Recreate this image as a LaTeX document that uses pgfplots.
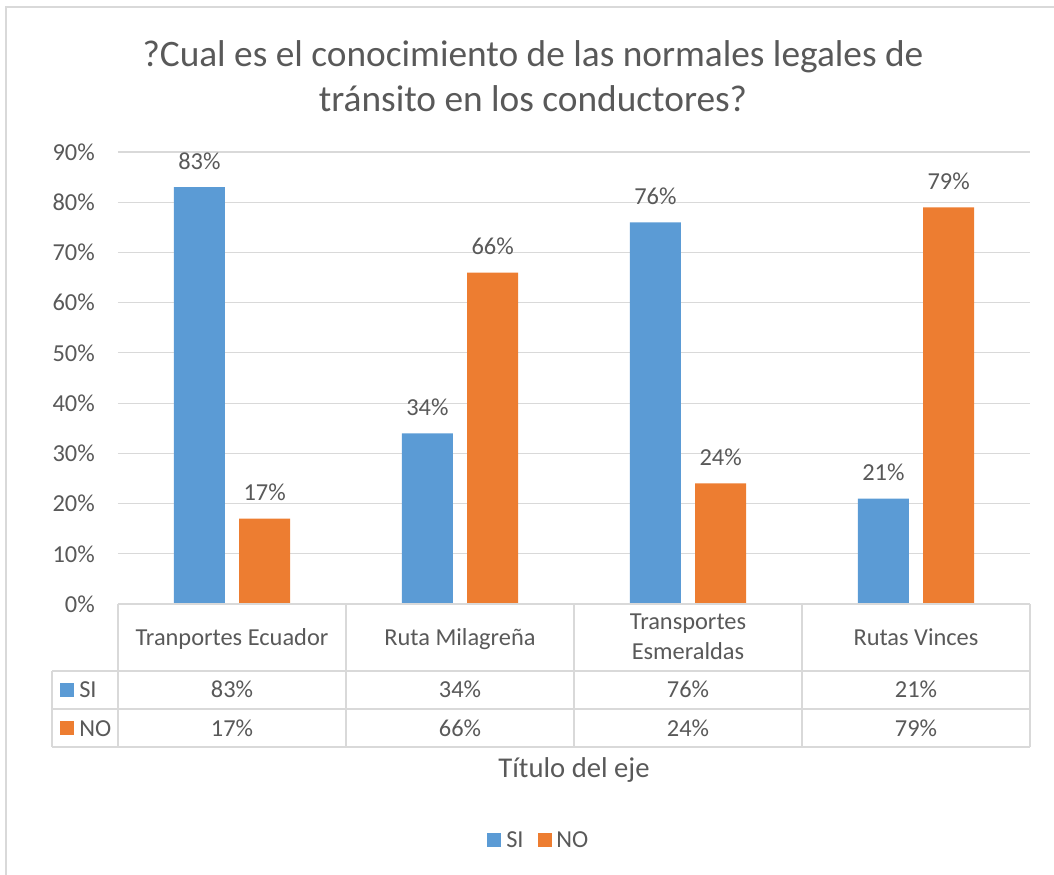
\documentclass[border=0pt]{standalone}
\usepackage{pgfplots}
\pgfplotsset{compat=1.18}
\usepackage{fontspec}
\setmainfont{Carlito}
\definecolor{txt}{HTML}{595959}
\definecolor{gridc}{HTML}{D9D9D9}
\definecolor{si}{HTML}{5B9BD5}
\definecolor{no}{HTML}{ED7D31}
\newcommand\fs{\fontsize{18.3}{21}\selectfont}
\begin{document}
\begin{tikzpicture}
\begin{axis}[
 at={(88.5pt,-453pt)}, anchor=south west,
 scale only axis, width=684pt, height=339pt,
 xmin=-0.5, xmax=3.5, ymin=0, ymax=90,
 ytick={0,10,...,90}, xtick=\empty,
 ymajorgrids, grid style={gridc, line width=0.9pt},
 axis line style={draw=none}, tick style={draw=none},
 /pgf/number format/assume math mode=true,
 yticklabel={\pgfmathprintnumber{\tick}\%},
 yticklabel style={font=\fs, text=txt, anchor=east, inner sep=0pt, xshift=-17.25pt},
 ybar, bar width=38.25pt,
 nodes near coords={\pgfmathprintnumber{\pgfplotspointmeta}\%},
 nodes near coords style={font=\fs, text=txt, anchor=base, inner sep=0pt, yshift=13.3pt},
 clip=false,
]
\addplot[fill=si, draw=none, bar shift=-24.45pt] coordinates {(0,83) (1,34) (2,76) (3,21)};
\addplot[fill=no, draw=none, bar shift=24.45pt] coordinates {(0,17) (1,66) (2,24) (3,79)};
\end{axis}
\begin{scope}[x=0.75pt,y=-0.75pt, every node/.style={inner sep=0pt, text=txt}]
\path[use as bounding box] (0,0) rectangle (1054,875);
\draw[gridc, line width=1.2pt] (6,875) -- (6,7) -- (1054,7);
\node[font=\fontsize{28}{34}\selectfont, anchor=base] at (533,66) {?Cual es el conocimiento de las normales legales de};
\node[font=\fontsize{28}{34}\selectfont, anchor=base] at (533,111) {tránsito en los conductores?};
% data table
\begin{scope}[gridc, line width=1.2pt]
\draw (118,604) -- (1030,604);
\foreach \x in {118,346,574,802,1030} \draw (\x,604) -- (\x,747);
\foreach \y in {671,709,747} \draw (52,\y) -- (1030,\y);
\draw (52,671) -- (52,747);
\end{scope}
\node[font=\fs, anchor=base] at (232,645) {Tranportes Ecuador};
\node[font=\fs, anchor=base] at (460,645) {Ruta Milagreña};
\node[font=\fs, anchor=base] at (688,629) {Transportes};
\node[font=\fs, anchor=base] at (688,659) {Esmeraldas};
\node[font=\fs, anchor=base] at (916,645) {Rutas Vinces};
\fill[si] (60,683) rectangle (74,697);
\node[font=\fs, anchor=base west] at (79,697) {SI};
\fill[no] (60,721) rectangle (74,735);
\node[font=\fs, anchor=base west] at (79,736) {NO};
\foreach \x/\a/\b in {232/83/17, 460/34/66, 688/76/24, 916/21/79}{
  \node[font=\fs, anchor=base] at (\x,697) {\a\%};
  \node[font=\fs, anchor=base] at (\x,736) {\b\%};
}
\node[font=\fontsize{21.5}{25}\selectfont, anchor=base] at (574,777) {Título del eje};
\fill[si] (487,833) rectangle (501,847);
\node[font=\fs, anchor=base west] at (506,847) {SI};
\fill[no] (538,833) rectangle (552,847);
\node[font=\fs, anchor=base west] at (556,847) {NO};
\end{scope}
\end{tikzpicture}
\end{document}
